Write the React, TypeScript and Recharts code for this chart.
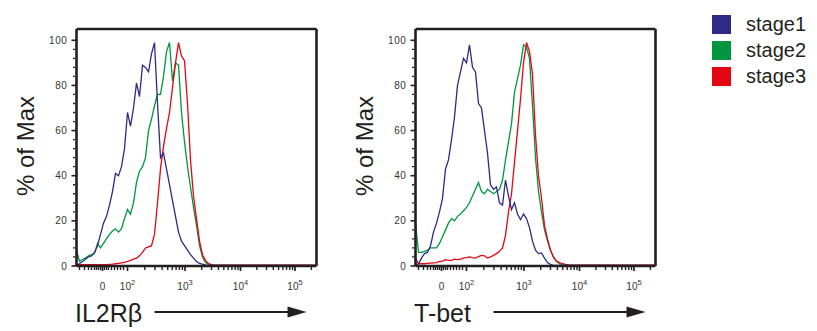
import { LineChart, Line, XAxis, YAxis, ReferenceLine } from 'recharts';

// histogram channels (1 channel = 1px of the biexponential axis)
const channels = [
  0, 3, 6, 9, 12, 15, 18, 21, 24, 27,
  30, 33, 36, 39, 42, 45, 48, 51, 54, 57,
  60, 63, 66, 69, 72, 75, 78, 81, 84, 87,
  90, 93, 96, 99, 102, 105, 108, 111, 114, 117,
  120, 123, 126, 129, 132, 135, 138, 141, 144, 147,
  150, 153, 156, 159, 162, 165, 168, 171, 174, 177,
  180, 183, 186, 189, 192, 195, 198, 201, 204, 207,
  210, 213, 216, 219, 222, 225, 228, 231, 234, 237,
  240,
];

const il2rbStage1 = [
  0.5, 1, 2, 3, 4, 4.5, 6, 9, 14, 19,
  22, 27, 33, 41, 40, 44, 52, 68, 62, 70,
  81, 75, 89, 88, 86, 94, 99, 72, 48, 50,
  43, 36, 29, 22, 15, 11, 9, 7, 5, 3.5,
  2, 1.2, 0.8, 0.5, 0.3, 0.3, 0.3, 0.3, 0.3, 0.3,
  0.3, 0.3, 0.3, 0.3, 0.3, 0.3, 0.3, 0.3, 0.3, 0.3,
  0.3, 0.3, 0.3, 0.3, 0.3, 0.3, 0.3, 0.3, 0.3, 0.3,
  0.3, 0.3, 0.3, 0.3, 0.3, 0.3, 0.3, 0.3, 0.3, 0.3,
  0.3,
];
const il2rbStage2 = [
  7, 2, 3, 3.5, 4.5, 5, 5.5, 10, 8, 10,
  12, 14, 15.5, 16.5, 15, 16.5, 21, 25, 23, 28,
  37, 42, 44, 48, 60, 65, 71, 76, 76, 84,
  95, 99, 82, 90, 89, 68, 55, 44, 35, 26,
  18, 9, 4, 1.5, 0.8, 0.5, 0.3, 0.3, 0.3, 0.3,
  0.3, 0.3, 0.3, 0.3, 0.3, 0.3, 0.3, 0.3, 0.3, 0.3,
  0.3, 0.3, 0.3, 0.3, 0.3, 0.3, 0.3, 0.3, 0.3, 0.3,
  0.3, 0.3, 0.3, 0.3, 0.3, 0.3, 0.3, 0.3, 0.3, 0.3,
  0.3,
];
const il2rbStage3 = [
  0.6, 0.6, 0.6, 0.6, 0.6, 0.6, 0.6, 0.6, 0.6, 0.6,
  0.6, 0.7, 0.8, 1, 1.2, 1.4, 1.6, 2, 2.5, 3,
  3.5, 4.5, 6, 8, 8.5, 9, 14, 28, 43, 53,
  61, 68, 79, 90, 99, 93, 91, 72, 47, 31,
  21, 11, 5, 2.5, 1, 0.6, 0.4, 0.4, 0.4, 0.4,
  0.4, 0.4, 0.4, 0.4, 0.4, 0.4, 0.4, 0.4, 0.4, 0.4,
  0.4, 0.4, 0.4, 0.4, 0.4, 0.4, 0.4, 0.4, 0.4, 0.4,
  0.4, 0.4, 0.4, 0.4, 0.4, 0.4, 0.4, 0.4, 0.4, 0.4,
  0.4,
];

const tbetStage1 = [
  0.3, 1, 3.5, 5.5, 6, 9, 15, 19, 24, 30,
  43, 47, 56, 66, 80, 86, 92, 90, 98, 88,
  86, 72, 70, 60, 50, 36, 34, 35, 28, 27,
  38, 31, 25, 28, 23, 20.5, 23, 21, 17, 11,
  7, 5.5, 5.8, 3.5, 1.5, 0.7, 0.3, 0.3, 0.3, 0.3,
  0.3, 0.3, 0.3, 0.3, 0.3, 0.3, 0.3, 0.3, 0.3, 0.3,
  0.3, 0.3, 0.3, 0.3, 0.3, 0.3, 0.3, 0.3, 0.3, 0.3,
  0.3, 0.3, 0.3, 0.3, 0.3, 0.3, 0.3, 0.3, 0.3, 0.3,
  0.3,
];
const tbetStage2 = [
  19, 6, 6, 6.5, 7, 8, 8, 8, 10, 13,
  16, 19, 21, 20, 22, 23, 24.5, 26, 28, 31,
  34, 37, 33, 32, 34, 33, 32, 33, 34, 38,
  47, 55, 63, 77, 83, 89, 98, 97, 92, 71,
  48, 33, 24, 16, 11, 7, 4, 2, 1, 0.5,
  0.3, 0.3, 0.3, 0.3, 0.3, 0.3, 0.3, 0.3, 0.3, 0.3,
  0.3, 0.3, 0.3, 0.3, 0.3, 0.3, 0.3, 0.3, 0.3, 0.3,
  0.3, 0.3, 0.3, 0.3, 0.3, 0.3, 0.3, 0.3, 0.3, 0.3,
  0.3,
];
const tbetStage3 = [
  3.5, 1, 1, 1, 1.2, 1.3, 1.4, 1.5, 2, 2.2,
  2.8, 2.5, 2.5, 3, 2.8, 3, 3.5, 3.7, 4, 3.7,
  3.5, 4.2, 4.7, 4.5, 3.5, 4, 4.7, 5.5, 6.5, 8,
  13.6, 24, 32, 46, 60, 74, 90, 99, 95, 85,
  58, 40, 30, 18, 12, 7, 3.8, 2.2, 1.5, 1,
  0.7, 0.5, 0.4, 0.4, 0.4, 0.4, 0.4, 0.4, 0.4, 0.4,
  0.4, 0.4, 0.4, 0.4, 0.4, 0.4, 0.4, 0.4, 0.4, 0.4,
  0.4, 0.4, 0.4, 0.4, 0.4, 0.4, 0.4, 0.4, 0.4, 0.4,
  0.4,
];

const stageNames = ['stage1', 'stage2', 'stage3'];
const stageColors = ['#2E2A85', '#00963F', '#E30613'];

// axis ticks in channel units
const xMajorTicks = [26, 51, 108.5, 164, 218.5];
const xMajorBase = ['0', '10', '10', '10', '10'];
const xMajorExp = ['', '2', '3', '4', '5'];
const xLinearTicks = [3, 8, 12, 15, 18, 20, 22, 24, 28, 30, 32, 35, 38, 41, 44, 47];
const yMajorTicks = [0, 20, 40, 60, 80, 100];

const decades = [
  [51, 108.5],
  [108.5, 164],
  [164, 218.5],
  [218.5, 273],
];
const xMinorTicks = decades.flatMap(([a, b]) =>
  [2, 3, 4, 5, 6, 7, 8, 9].map((k) => a + (b - a) * Math.log10(k)).filter((v) => v < 240)
);
const xTicks = [...xLinearTicks, ...xMajorTicks, ...xMinorTicks].sort((a, b) => a - b);
const yTicks = Array.from({ length: 26 }, (_, i) => i * 4).concat([100]).filter((v, i, a) => a.indexOf(v) === i);

const FONT = '"Liberation Sans", Arial, Helvetica, sans-serif';
const INK = '#231F20';
const FRAME = { stroke: INK, strokeWidth: 2.6 };

function XTick({ x, y, payload }: any) {
  const idx = xMajorTicks.indexOf(payload.value);
  const major = idx >= 0;
  return (
    <g>
      <line x1={x} x2={x} y1={y} y2={y + (major ? 5 : 4)} stroke={INK} strokeWidth={major ? 1.7 : 1.4} />
      {major && (
        <text x={x} y={y + 24} textAnchor="middle" fontSize={10} fontFamily={FONT} fill="#333">
          {xMajorBase[idx]}
          {xMajorExp[idx] && (
            <tspan dy={-5} fontSize={7.5}>
              {xMajorExp[idx]}
            </tspan>
          )}
        </text>
      )}
    </g>
  );
}

function YTick({ x, y, payload }: any) {
  const major = yMajorTicks.includes(payload.value);
  if (!major) {
    return <line x1={x - 3.5} x2={x - 1.5} y1={y} y2={y} stroke={INK} strokeWidth={1.3} />;
  }
  return (
    <g>
      <line x1={x - 5} x2={x} y1={y} y2={y} stroke={INK} strokeWidth={1.6} />
      <text x={x - 9} y={y + 3.5} textAnchor="end" fontSize={10} letterSpacing={0.6} fontFamily={FONT} fill="#333">
        {payload.value}
      </text>
    </g>
  );
}

interface PanelProps {
  left: number;
  title: string;
  series: number[][];
}

function Panel({ left, title, series }: PanelProps) {
  const data = channels.map((ch, i) => ({
    ch,
    stage1: series[0][i],
    stage2: series[1][i],
    stage3: series[2][i],
  }));

  return (
    <div style={{ position: 'absolute', left, top: 0 }}>
      <LineChart width={338} height={331} data={data} margin={{ top: 29, right: 21.5, bottom: 35, left: 36.5 }}>
        <XAxis
          type="number"
          dataKey="ch"
          domain={[0, 240]}
          ticks={xTicks}
          interval={0}
          tickSize={0}
          tickMargin={0}
          tickLine={false}
          axisLine={FRAME}
          height={30}
          tick={(p: any) => <XTick {...p} />}
          label={{
            content: (p: any) => {
              const vb = p.viewBox;
              const yA = vb.y + 46;
              return (
                <g>
                  <text x={vb.x - 1.5} y={vb.y + 56} fontSize={25} fontFamily={FONT} fill={INK}>
                    {title}
                  </text>
                  <line x1={vb.x + 78} x2={vb.x + 213} y1={yA} y2={yA} stroke={INK} strokeWidth={2.2} />
                  <polygon points={`${vb.x + 211},${yA - 5.5} ${vb.x + 230},${yA} ${vb.x + 211},${yA + 5.5}`} fill={INK} />
                </g>
              );
            },
          }}
        />
        <YAxis
          type="number"
          domain={[0, 105]}
          ticks={yTicks}
          interval={0}
          tickSize={0}
          tickMargin={0}
          tickLine={false}
          axisLine={FRAME}
          width={40}
          tick={(p: any) => <YTick {...p} />}
          label={{
            content: (p: any) => {
              const vb = p.viewBox;
              const bx = vb.x + vb.width - 43;
              const cy = 146;
              return (
                <text
                  x={bx}
                  y={cy}
                  transform={`rotate(-90, ${bx}, ${cy})`}
                  textAnchor="middle"
                  fontSize={24}
                  fontFamily={FONT}
                  fill={INK}
                >
                  % of Max
                </text>
              );
            },
          }}
        />
        {/* top and right sides of the box */}
        <ReferenceLine y={105} {...FRAME} ifOverflow="visible" />
        <ReferenceLine x={240} {...FRAME} ifOverflow="visible" />
        <Line type="linear" dataKey="stage2" stroke={stageColors[1]} strokeWidth={1.3} dot={false} isAnimationActive={false} />
        <Line type="linear" dataKey="stage3" stroke={stageColors[2]} strokeWidth={1.3} dot={false} isAnimationActive={false} />
        <Line type="linear" dataKey="stage1" stroke={stageColors[0]} strokeWidth={1.3} dot={false} isAnimationActive={false} />
      </LineChart>
    </div>
  );
}

export default function App() {
  return (
    <div style={{ position: 'absolute', left: 0, top: 0, width: 817, height: 331, background: '#fff', fontFamily: FONT }}>
      <Panel left={0} title="IL2Rβ" series={[il2rbStage1, il2rbStage2, il2rbStage3]} />
      <Panel left={338.5} title="T-bet" series={[tbetStage1, tbetStage2, tbetStage3]} />

      {/* legend */}
      <div style={{ position: 'absolute', left: 712, top: 11 }}>
        {stageNames.map((name, i) => (
          <div key={name} style={{ display: 'flex', alignItems: 'center', height: 26 }}>
            <span style={{ display: 'inline-block', width: 19, height: 19, background: stageColors[i] }} />
            <span style={{ marginLeft: 15, fontSize: 20, color: INK, lineHeight: '19px' }}>{name}</span>
          </div>
        ))}
      </div>
    </div>
  );
}
